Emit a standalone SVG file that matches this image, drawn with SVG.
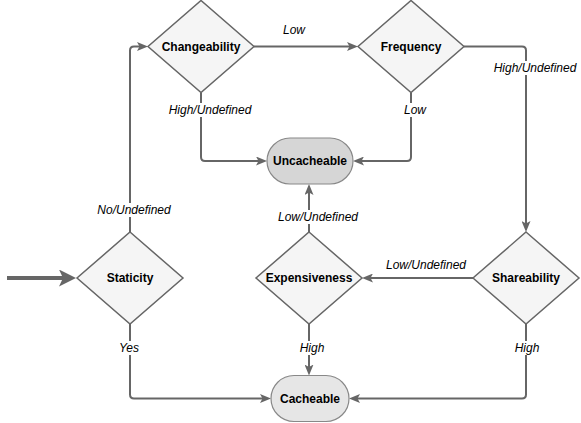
<svg xmlns="http://www.w3.org/2000/svg" width="581" height="423" viewBox="0 0 581 423">
<style>
.dia{fill:#f5f5f5;stroke:#666;stroke-width:1.5}
.term{stroke:#888;stroke-width:1.2}
.nt{font-family:"Liberation Sans",Arial,sans-serif;font-size:12px;font-weight:bold;fill:#000;text-anchor:middle}
.lt{font-family:"Liberation Sans",Arial,sans-serif;font-size:12px;font-style:italic;fill:#000;text-anchor:middle}
.bg{fill:#fff}
.c{fill:none;stroke:#666;stroke-width:2;marker-end:url(#arr)}
</style>
<defs>
<marker id="arr" markerUnits="userSpaceOnUse" viewBox="0 0 11 9" refX="7" refY="4.5" markerWidth="11" markerHeight="9" orient="auto">
<path d="M0,0 L11,4.5 L0,9 L2.5,4.5 Z" fill="#666"/>
</marker>
<marker id="arrBig" markerUnits="userSpaceOnUse" viewBox="0 0 17 17" refX="12" refY="8.5" markerWidth="17" markerHeight="17" orient="auto">
<path d="M0,0 L17,8.5 L0,17 L4,8.5 Z" fill="#666"/>
</marker>
</defs>
<g id="connectors">
<path d="M7,278 H71" fill="none" stroke="#666" stroke-width="4" marker-end="url(#arrBig)"/>
<path class="c" d="M130,232 V50.5 Q130,46.5 134,46.5 H144"/>
<path class="c" d="M254,46.5 H354"/>
<path class="c" d="M201,92.5 V157 Q201,161 205,161 H263"/>
<path class="c" d="M411,92.5 V157 Q411,161 407,161 H357"/>
<path class="c" d="M464,46.5 H522 Q526,46.5 526,50.5 V228"/>
<path class="c" d="M473,278 H366"/>
<path class="c" d="M526,324 V394.5 Q526,398.5 522,398.5 H353"/>
<path class="c" d="M309,232 V188"/>
<path class="c" d="M309,324 V371.5"/>
<path class="c" d="M130,324 V394.5 Q130,398.5 134,398.5 H267"/>
</g>
<g id="labels">
<text class="lt" x="294" y="34">Low</text>
<rect class="bg" x="167" y="103" width="86" height="14"/>
<text class="lt" x="210" y="114">High/Undefined</text>
<rect class="bg" x="403" y="103" width="24" height="14"/>
<text class="lt" x="415" y="114">Low</text>
<rect class="bg" x="492" y="61" width="86" height="14"/>
<text class="lt" x="535" y="72">High/Undefined</text>
<rect class="bg" x="97" y="203" width="75" height="14"/>
<text class="lt" x="134" y="214">No/Undefined</text>
<rect class="bg" x="118" y="341" width="22" height="14"/>
<text class="lt" x="129" y="352">Yes</text>
<rect class="bg" x="277" y="210" width="82" height="14"/>
<text class="lt" x="318" y="221">Low/Undefined</text>
<text class="lt" x="426" y="269">Low/Undefined</text>
<rect class="bg" x="299" y="341" width="26" height="14"/>
<text class="lt" x="312" y="352">High</text>
<rect class="bg" x="514" y="341" width="26" height="14"/>
<text class="lt" x="527" y="352">High</text>
</g>
<g id="changeability">
<polygon class="dia" points="201,0.5 254,46.5 201,92.5 148,46.5"/>
<text class="nt" x="201" y="50.5">Changeability</text>
</g>
<g id="frequency">
<polygon class="dia" points="411,0.5 464,46.5 411,92.5 358,46.5"/>
<text class="nt" x="411" y="50.5">Frequency</text>
</g>
<g id="staticity">
<polygon class="dia" points="130,232 183,278 130,324 77,278"/>
<text class="nt" x="130" y="282">Staticity</text>
</g>
<g id="expensiveness">
<polygon class="dia" points="309,232 362,278 309,324 256,278"/>
<text class="nt" x="309" y="282">Expensiveness</text>
</g>
<g id="shareability">
<polygon class="dia" points="526,232 579,278 526,324 473,278"/>
<text class="nt" x="526" y="282">Shareability</text>
</g>
<g id="uncacheable">
<rect class="term" x="267" y="138" width="86" height="46" rx="23" fill="#d6d6d6"/>
<text class="nt" x="310" y="165">Uncacheable</text>
</g>
<g id="cacheable">
<rect class="term" x="271" y="375.5" width="78" height="46" rx="23" fill="#e6e6e6"/>
<text class="nt" x="310" y="402.5">Cacheable</text>
</g>
</svg>
